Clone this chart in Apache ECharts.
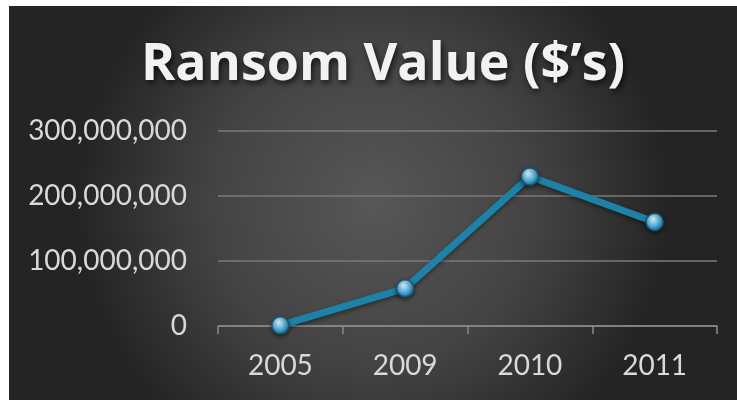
<!DOCTYPE html>
<html>
<head>
<meta charset="utf-8">
<script src="https://cdn.jsdelivr.net/npm/echarts@6/dist/echarts.min.js"></script>
<style>
html,body{margin:0;padding:0;background:#fff;}
#c{width:737px;height:400px;}
</style>
</head>
<body>
<div id="c"></div>
<script>
var categories = ['2005', '2009', '2010', '2011'];
var ransomValues = [1000000, 58000000, 230000000, 160000000];
var yTicks = [0, 100000000, 200000000, 300000000];
var titleText = 'Ransom Value ($\u2019s)';

var chart = echarts.init(document.getElementById('c'), null, {renderer: 'canvas'});
var option = {
  backgroundColor: '#ffffff',
  animation: false,
  graphic: [{
    type: 'rect',
    z: -10,
    silent: true,
    shape: {x: 9, y: 6, width: 728, height: 394},
    style: {
      fill: new echarts.graphic.RadialGradient(0.5, 0.5, 0.75, [
        {offset: 0, color: '#575757'},
        {offset: 0.55, color: '#434343'},
        {offset: 1, color: '#242424'}
      ])
    }
  }],
  title: {
    text: titleText,
    left: 136,
    top: 34,
    textStyle: {
      fontFamily: 'Open Sans',
      fontWeight: 'bold',
      fontSize: 52,
      color: '#f2f2f2',
      textShadowColor: 'rgba(0,0,0,0.7)',
      textShadowBlur: 6,
      textShadowOffsetX: 2,
      textShadowOffsetY: 3
    }
  },
  grid: {left: 218, right: 20, top: 131, bottom: 74, containLabel: false},
  xAxis: {
    type: 'category',
    data: categories,
    boundaryGap: true,
    axisLine: {show: true, lineStyle: {color: '#8a8a8a', width: 1.5}},
    axisTick: {show: true, length: 8, lineStyle: {color: '#8a8a8a', width: 1.5}},
    axisLabel: {color: '#d9d9d9', fontFamily: 'Lato', fontSize: 28, margin: 26},
    splitLine: {show: false}
  },
  yAxis: {
    type: 'value',
    min: yTicks[0],
    max: yTicks[yTicks.length - 1],
    interval: yTicks[1] - yTicks[0],
    axisLine: {show: false},
    axisTick: {show: false},
    axisLabel: {
      color: '#d9d9d9', fontFamily: 'Lato', fontSize: 28, margin: 31,
      formatter: function (v) { return v.toString().replace(/\B(?=(\d{3})+(?!\d))/g, ','); }
    },
    splitLine: {lineStyle: {color: '#7a7a7a', width: 1.5}}
  },
  series: [{
    type: 'line',
    data: ransomValues,
    symbol: 'circle',
    symbolSize: 17,
    lineStyle: {
      color: '#1d82a8', width: 7,
      shadowColor: 'rgba(0,0,0,0.45)', shadowBlur: 4, shadowOffsetY: 2
    },
    itemStyle: {
      color: new echarts.graphic.RadialGradient(0.4, 0.3, 0.75, [
        {offset: 0, color: '#e6f7ff'},
        {offset: 0.35, color: '#7fc8ea'},
        {offset: 0.8, color: '#2a8bb8'},
        {offset: 1, color: '#16607f'}
      ]),
      borderColor: '#145a78',
      borderWidth: 1.5,
      shadowColor: 'rgba(0,0,0,0.5)',
      shadowBlur: 4,
      shadowOffsetY: 2
    },
    z: 5
  }]
};
chart.setOption(option);
</script>
</body>
</html>
